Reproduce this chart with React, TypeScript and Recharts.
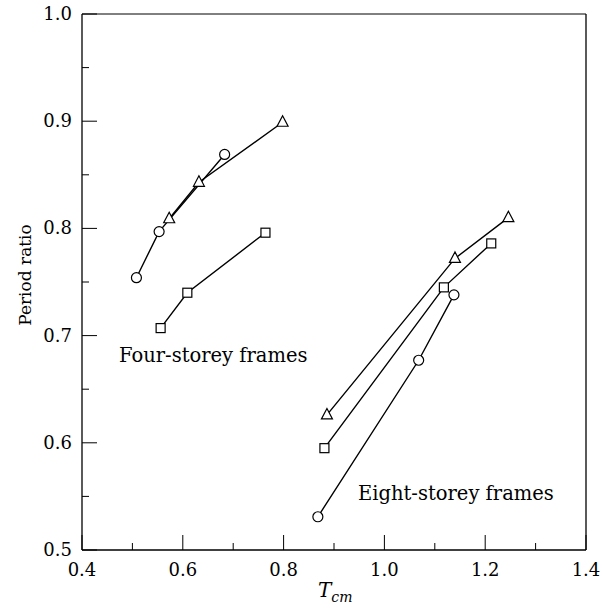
import React from "react";
import { ComposedChart, Scatter, XAxis, YAxis, ReferenceLine } from "recharts";

// four-storey frames
const fourCircle = [
  { x: 0.508, y: 0.754 },
  { x: 0.553, y: 0.797 },
  { x: 0.683, y: 0.869 },
];
const fourTriangle = [
  { x: 0.573, y: 0.809 },
  { x: 0.632, y: 0.843 },
  { x: 0.798, y: 0.899 },
];
const fourSquare = [
  { x: 0.556, y: 0.707 },
  { x: 0.609, y: 0.74 },
  { x: 0.764, y: 0.796 },
];

// eight-storey frames
const eightTriangle = [
  { x: 0.886, y: 0.626 },
  { x: 1.14, y: 0.772 },
  { x: 1.246, y: 0.81 },
];
const eightSquare = [
  { x: 0.881, y: 0.595 },
  { x: 1.118, y: 0.745 },
  { x: 1.212, y: 0.786 },
];
const eightCircle = [
  { x: 0.868, y: 0.531 },
  { x: 1.068, y: 0.677 },
  { x: 1.138, y: 0.738 },
];

const xTicks = [0.4, 0.5, 0.6, 0.7, 0.8, 0.9, 1.0, 1.1, 1.2, 1.3, 1.4];
const xMajor = ["0.4", "0.6", "0.8", "1.0", "1.2", "1.4"];
const yTicks = [0.5, 0.55, 0.6, 0.65, 0.7, 0.75, 0.8, 0.85, 0.9, 0.95, 1.0];

const FONT = "DejaVu Serif";

const XTick = (props: any) => {
  const { x, y, payload } = props;
  const label = payload.value.toFixed(1);
  const major = xMajor.includes(label);
  return (
    <g>
      <line x1={x} y1={y} x2={x} y2={y - (major ? 15 : 7)} stroke="#000" strokeWidth={1} />
      {major && (
        <text x={x} y={y + 26} textAnchor="middle" fontFamily={FONT} fontSize={18} fill="#000">
          {label}
        </text>
      )}
    </g>
  );
};

const YTick = (props: any) => {
  const { x, y, payload } = props;
  const label = payload.value.toFixed(1);
  // majors fall on whole tenths
  const major = Math.abs(payload.value * 10 - Math.round(payload.value * 10)) < 1e-6;
  return (
    <g>
      <line x1={x} y1={y} x2={x + (major ? 15 : 7)} y2={y} stroke="#000" strokeWidth={1} />
      {major && (
        <text x={x - 10} y={y + 6} textAnchor="end" fontFamily={FONT} fontSize={18} fill="#000">
          {label}
        </text>
      )}
    </g>
  );
};

const marker = (kind: string) => (props: any) => {
  const { cx, cy } = props;
  if (kind === "circle") {
    return <circle cx={cx} cy={cy} r={5} fill="#fff" stroke="#000" strokeWidth={1.2} />;
  }
  if (kind === "square") {
    return <rect x={cx - 4.5} y={cy - 4.5} width={9} height={9} fill="#fff" stroke="#000" strokeWidth={1.2} />;
  }
  return (
    <polygon
      points={`${cx},${cy - 6.5} ${cx - 5.5},${cy + 4} ${cx + 5.5},${cy + 4}`}
      fill="#fff"
      stroke="#000"
      strokeWidth={1.2}
    />
  );
};

const lineStyle = { stroke: "#000", strokeWidth: 1.4 };

export default function App() {
  return (
    <div style={{ position: "absolute", left: 0, top: 0, width: 602, height: 615, background: "#fff" }}>
      <ComposedChart width={602} height={615} margin={{ top: 14, right: 16, bottom: 0, left: 0 }}>
        <XAxis
          dataKey="x"
          type="number"
          domain={[0.4, 1.4]}
          ticks={xTicks}
          interval={0}
          height={65}
          tickSize={0}
          tickMargin={0}
          tickLine={false}
          axisLine={{ stroke: "#000", strokeWidth: 1.3 }}
          tick={<XTick />}
        />
        <YAxis
          dataKey="y"
          type="number"
          domain={[0.5, 1.0]}
          ticks={yTicks}
          interval={0}
          width={82}
          tickSize={0}
          tickMargin={0}
          tickLine={false}
          axisLine={{ stroke: "#000", strokeWidth: 1.3 }}
          tick={<YTick />}
        />
        <ReferenceLine y={1.0} stroke="#000" strokeWidth={1} />
        <ReferenceLine x={1.4} stroke="#000" strokeWidth={1.3} />
        <Scatter data={fourCircle} line={lineStyle} shape={marker("circle")} isAnimationActive={false} />
        <Scatter data={fourTriangle} line={lineStyle} shape={marker("triangle")} isAnimationActive={false} />
        <Scatter data={fourSquare} line={lineStyle} shape={marker("square")} isAnimationActive={false} />
        <Scatter data={eightTriangle} line={lineStyle} shape={marker("triangle")} isAnimationActive={false} />
        <Scatter data={eightSquare} line={lineStyle} shape={marker("square")} isAnimationActive={false} />
        <Scatter data={eightCircle} line={lineStyle} shape={marker("circle")} isAnimationActive={false} />
      </ComposedChart>
      <svg width={602} height={615} style={{ position: "absolute", left: 0, top: 0, pointerEvents: "none" }}>
        <text x={119} y={362} fontFamily={FONT} fontSize={19.5} fill="#000">Four-storey frames</text>
        <text x={358} y={500} fontFamily={FONT} fontSize={19.5} fill="#000">Eight-storey frames</text>
        <text
          x={31}
          y={275}
          transform="rotate(-90 31 275)"
          textAnchor="middle"
          fontFamily={FONT}
          fontSize={17}
          fill="#000"
        >
          Period ratio
        </text>
        <text x={318} y={597} fontFamily={FONT} fontStyle="italic" fontSize={20} fill="#000">
          T<tspan dy={5} fontSize={14}>cm</tspan>
        </text>
      </svg>
    </div>
  );
}
